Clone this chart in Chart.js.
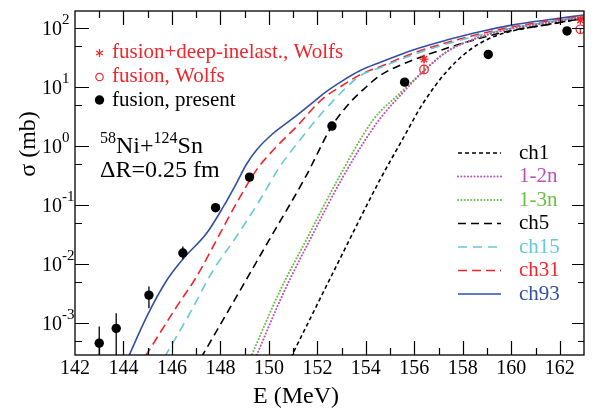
<!DOCTYPE html>
<html>
<head>
<meta charset="utf-8">
<script src="https://cdn.jsdelivr.net/npm/chart.js@4.4.0/dist/chart.umd.min.js"></script>
<style>
  html, body { margin: 0; padding: 0; background: #fff; }
  canvas { display: block; }
</style>
</head>
<body>
<canvas id="xsec" width="596" height="408"></canvas>
<script>
// axis ranges and tick values
const xMin = 142, xMax = 163;
const yMin = 2.9e-4, yMax = 196;
const yMajor = [1e-3, 1e-2, 1e-1, 1, 10, 100];
const yExp = ['-3', '-2', '-1', '0', '1', '2'];
const yMinor = [5e-4, 5e-3, 5e-2, 0.5, 5, 50];

// measured fusion, present work (mb) with error bars (null = hidden by marker)
const presE = [143.0, 143.7, 145.05, 146.45, 147.8, 149.2, 152.6, 155.6, 159.05, 162.3];
const presSig = [4.6e-4, 8.2e-4, 3.0e-3, 1.55e-2, 0.091, 0.30, 2.2, 12.2, 36, 90];
const presLo = [1e-5, 1e-5, 1.8e-3, 1.22e-2, null, null, null, null, null, null];
const presHi = [8.8e-4, 1.48e-3, 4.2e-3, 2.0e-2, null, null, null, null, null, null];

// Wolfs data
const wolfsDiE = [156.4, 162.85];
const wolfsDiSig = [30, 138];
const wolfsDiLo = [26, 124];
const wolfsDiHi = [35, 152];
const wolfsFusE = [156.4, 162.85];
const wolfsFusSig = [20, 96];
const wolfsFusLo = [17, 82];
const wolfsFusHi = [24, 100];

// coupled-channels curves
const ch1E = [150.9, 152.82, 154.58, 155.54, 156.36, 157.33, 158.29, 159.11, 160.08, 161.45, 163];
const ch1Sig = [2.6e-4, 0.01, 0.269, 1.37, 5.36, 18.4, 42.9, 67.6, 91, 115, 148];

const n12E = [149.45, 150.59, 151.83, 153.06, 154.44, 155.5, 156.43, 157.33, 158.7, 160.08, 161.45, 163];
const n12Sig = [2.6e-4, 3.2e-3, 0.0335, 0.305, 2.45, 7.9, 19.5, 39.8, 70.8, 100, 123, 158];

const n13E = [149.25, 150.45, 151.55, 152.79, 154.3, 155.4, 156.43, 157.33, 158.7, 160.08, 161.45, 163];
const n13Sig = [2.66e-4, 3.5e-3, 0.0263, 0.25, 2.79, 7.9, 19.6, 39.8, 70.8, 100, 123, 158];

const ch5E = [147.2, 148.5, 150.0, 151.5, 152.6, 153.3, 154.0, 154.58, 155.95, 157.33, 158.7, 160.08, 161.45, 163];
const ch5Sig = [2.6e-4, 2.17e-3, 0.0254, 0.296, 2.2, 5.25, 10, 15.8, 29, 45.7, 67.6, 93, 114, 148];

const ch15E = [145.7, 146.74, 147.7, 148.66, 149.63, 150.45, 151.28, 151.83, 152.6, 153.75, 154.58, 155.95, 157.33, 158.7, 160.08, 161.45, 163];
const ch15Sig = [2.7e-4, 1.48e-3, 7.9e-3, 0.0295, 0.123, 0.451, 1.28, 2.45, 5.6, 15.5, 21.4, 35.5, 54, 76, 102, 127, 157];

const ch31E = [144.9, 146.19, 147.02, 147.84, 148.66, 149.49, 150.31, 151.14, 152.2, 153.0, 153.75, 154.58, 155.95, 157.33, 158.7, 160.08, 161.45, 163];
const ch31Sig = [2.75e-4, 1.9e-3, 6.2e-3, 0.0258, 0.108, 0.398, 0.984, 2.15, 6.3, 10.5, 16.2, 22.3, 37.7, 57, 80, 106, 131, 161];

const ch93E = [144.15, 144.96, 145.78, 146.47, 147.43, 148.12, 148.66, 149.08, 149.49, 150.18, 151.0, 151.83, 152.38, 153.0, 153.75, 154.58, 155.95, 157.33, 158.7, 160.08, 161.45, 163];
const ch93Sig = [2.4e-4, 1.3e-3, 5.3e-3, 0.0125, 0.0335, 0.0946, 0.236, 0.5, 0.865, 1.66, 2.99, 5.6, 8.5, 12.6, 19, 26.3, 42.9, 63, 87.5, 114, 138, 168];

const serif = "'Liberation Serif', 'Times New Roman', serif";

function pts(xs, ys) {
  return xs.map((x, i) => ({ x: x, y: ys[i] }));
}

function curve(label, xs, ys, color, dash, dotted) {
  return {
    label: label,
    data: pts(xs, ys),
    borderColor: color,
    borderDash: dash,
    borderWidth: dotted ? 2 : 1.6,
    borderCapStyle: dotted ? 'round' : 'butt',
    pointRadius: 0,
    fill: false,
    cubicInterpolationMode: 'monotone',
    order: 2,
    isCurve: true
  };
}

function errLine(ctx, px, y1, y2) {
  ctx.beginPath();
  ctx.moveTo(px, y1);
  ctx.lineTo(px, y2);
  ctx.stroke();
}

// frame, inward ticks, error bars and all the annotation text
const decorations = {
  id: 'decorations',
  afterDatasetsDraw(chart) {
    const ctx = chart.ctx, a = chart.chartArea;
    const xs = chart.scales.x, ys = chart.scales.y;
    ctx.save();
    ctx.beginPath();
    ctx.rect(a.left, a.top, a.right - a.left, a.bottom - a.top);
    ctx.clip();
    ctx.lineWidth = 1.3;
    const bars = [
      [presE, presLo, presHi, '#000'],
      [wolfsDiE, wolfsDiLo, wolfsDiHi, '#f0262c'],
      [wolfsFusE, wolfsFusLo, wolfsFusHi, '#f0262c']
    ];
    bars.forEach(([es, lo, hi, col]) => {
      ctx.strokeStyle = col;
      es.forEach((e, i) => {
        if (lo[i] == null) return;
        errLine(ctx, xs.getPixelForValue(e), ys.getPixelForValue(lo[i]), ys.getPixelForValue(hi[i]));
      });
    });
    ctx.restore();
  },
  afterDraw(chart) {
    const ctx = chart.ctx, a = chart.chartArea;
    const xs = chart.scales.x, ys = chart.scales.y;
    ctx.save();
    ctx.strokeStyle = '#000';
    ctx.lineWidth = 1.3;
    ctx.setLineDash([]);
    ctx.strokeRect(a.left, a.top, a.right - a.left, a.bottom - a.top);

    ctx.lineWidth = 1.2;
    for (let e = xMin + 1; e < xMax; e++) {
      const px = Math.round(xs.getPixelForValue(e)) + 0.5;
      const len = e % 2 === 0 ? 14 : 7;
      errLine(ctx, px, a.bottom, a.bottom - len);
      errLine(ctx, px, a.top, a.top + len);
    }
    function hTick(v, lenL, lenR) {
      const py = Math.round(ys.getPixelForValue(v)) + 0.5;
      ctx.beginPath();
      ctx.moveTo(a.left, py); ctx.lineTo(a.left + lenL, py);
      ctx.moveTo(a.right, py); ctx.lineTo(a.right - lenR, py);
      ctx.stroke();
    }
    yMajor.forEach(v => hTick(v, 14, 12));
    yMinor.forEach(v => hTick(v, 7, 6));

    // y tick labels with superscript exponents
    ctx.fillStyle = '#000';
    ctx.textAlign = 'left';
    ctx.textBaseline = 'alphabetic';
    yMajor.forEach((v, i) => {
      const py = ys.getPixelForValue(v);
      ctx.font = '20px ' + serif;
      ctx.fillText('10', 42, py + 6.5);
      const w = ctx.measureText('10').width;
      ctx.font = '15px ' + serif;
      ctx.fillText(yExp[i], 42 + w, py - 4);
    });

    // axis titles
    ctx.font = '24px ' + serif;
    ctx.fillText('E (MeV)', 253, 403);
    ctx.save();
    ctx.translate(35, 144);
    ctx.rotate(-Math.PI / 2);
    ctx.textAlign = 'center';
    ctx.fillText('σ (mb)', 0, 0);
    ctx.restore();

    // reaction label
    let x = 100;
    ctx.font = '16px ' + serif;
    ctx.fillText('58', x, 143);
    x += ctx.measureText('58').width;
    ctx.font = '24px ' + serif;
    ctx.fillText('Ni+', x, 153);
    x += ctx.measureText('Ni+').width;
    ctx.font = '16px ' + serif;
    ctx.fillText('124', x, 143);
    x += ctx.measureText('124').width;
    ctx.font = '24px ' + serif;
    ctx.fillText('Sn', x, 153);
    ctx.fillText('ΔR=0.25 fm', 100, 177);

    // data legend, top left
    ctx.font = '21px ' + serif;
    ctx.fillStyle = '#f0262c';
    ctx.strokeStyle = '#f0262c';
    ctx.lineWidth = 1.2;
    const sx = 99.5, r = 4;
    ctx.beginPath();
    for (let k = 0; k < 3; k++) {
      const ang = Math.PI / 2 + k * Math.PI / 3;
      ctx.moveTo(sx + r * Math.cos(ang), 53 + r * Math.sin(ang));
      ctx.lineTo(sx - r * Math.cos(ang), 53 - r * Math.sin(ang));
    }
    ctx.stroke();
    ctx.fillText('fusion+deep-inelast., Wolfs', 112, 58);
    ctx.beginPath();
    ctx.arc(sx, 77, 3.7, 0, Math.PI * 2);
    ctx.stroke();
    ctx.fillText('fusion, Wolfs', 112, 82);
    ctx.fillStyle = '#000';
    ctx.beginPath();
    ctx.arc(sx, 100, 4.7, 0, Math.PI * 2);
    ctx.fill();
    ctx.fillText('fusion, present', 112, 106);

    // curve legend, right
    const rowY = [153, 176.5, 200, 223.5, 247, 270.5, 294];
    const curves = chart.data.datasets.filter(d => d.isCurve);
    curves.forEach((d, i) => {
      ctx.strokeStyle = d.borderColor;
      ctx.lineWidth = d.borderWidth;
      ctx.lineCap = d.borderCapStyle;
      ctx.setLineDash(d.borderDash || []);
      ctx.beginPath();
      ctx.moveTo(458, rowY[i]);
      ctx.lineTo(501, rowY[i]);
      ctx.stroke();
      ctx.fillStyle = d.borderColor;
      ctx.textBaseline = 'middle';
      ctx.fillText(d.label, 519, rowY[i]);
    });
    ctx.restore();
  }
};

const datasets = [
  curve('ch1', ch1E, ch1Sig, '#000000', [4, 3]),
  curve('1-2n', n12E, n12Sig, '#c04fb8', [0.1, 3.2], true),
  curve('1-3n', n13E, n13Sig, '#6cbf45', [0.1, 3.2], true),
  curve('ch5', ch5E, ch5Sig, '#000000', [8, 5]),
  curve('ch15', ch15E, ch15Sig, '#66c8d8', [9, 6]),
  curve('ch31', ch31E, ch31Sig, '#f0262c', [9, 5]),
  curve('ch93', ch93E, ch93Sig, '#3050a4', []),
  {
    label: 'fusion, present',
    data: pts(presE, presSig),
    showLine: false,
    pointStyle: 'circle',
    pointRadius: 4.7,
    backgroundColor: '#000',
    borderColor: '#000',
    borderWidth: 0,
    order: 0
  },
  {
    label: 'fusion+deep-inelast., Wolfs',
    data: pts(wolfsDiE, wolfsDiSig),
    showLine: false,
    pointStyle: 'star',
    pointRadius: 4.5,
    borderColor: '#f0262c',
    backgroundColor: '#f0262c',
    borderWidth: 1.3,
    order: 0
  },
  {
    label: 'fusion, Wolfs',
    data: pts(wolfsFusE, wolfsFusSig),
    showLine: false,
    pointStyle: 'circle',
    pointRadius: 4.3,
    borderColor: '#f0262c',
    backgroundColor: 'rgba(0,0,0,0)',
    borderWidth: 1.2,
    order: 0
  }
];

new Chart(document.getElementById('xsec'), {
  type: 'line',
  data: { datasets: datasets },
  options: {
    responsive: false,
    animation: false,
    devicePixelRatio: 1,
    layout: { padding: { top: 11, right: 12, left: 0, bottom: 0 } },
    plugins: { legend: { display: false }, tooltip: { enabled: false } },
    scales: {
      x: {
        type: 'linear',
        min: xMin,
        max: xMax,
        grid: { display: false, drawTicks: false },
        border: { display: false },
        ticks: {
          stepSize: 1,
          autoSkip: false,
          maxRotation: 0,
          padding: 2,
          color: '#000',
          font: { family: serif, size: 20 },
          callback: v => (v % 2 === 0 ? String(v) : '')
        },
        afterFit: s => { s.height = 53; }
      },
      y: {
        type: 'logarithmic',
        min: yMin,
        max: yMax,
        grid: { display: false, drawTicks: false },
        border: { display: false },
        ticks: { display: false },
        afterFit: s => { s.width = 75; }
      }
    }
  },
  plugins: [decorations]
});
</script>
</body>
</html>
